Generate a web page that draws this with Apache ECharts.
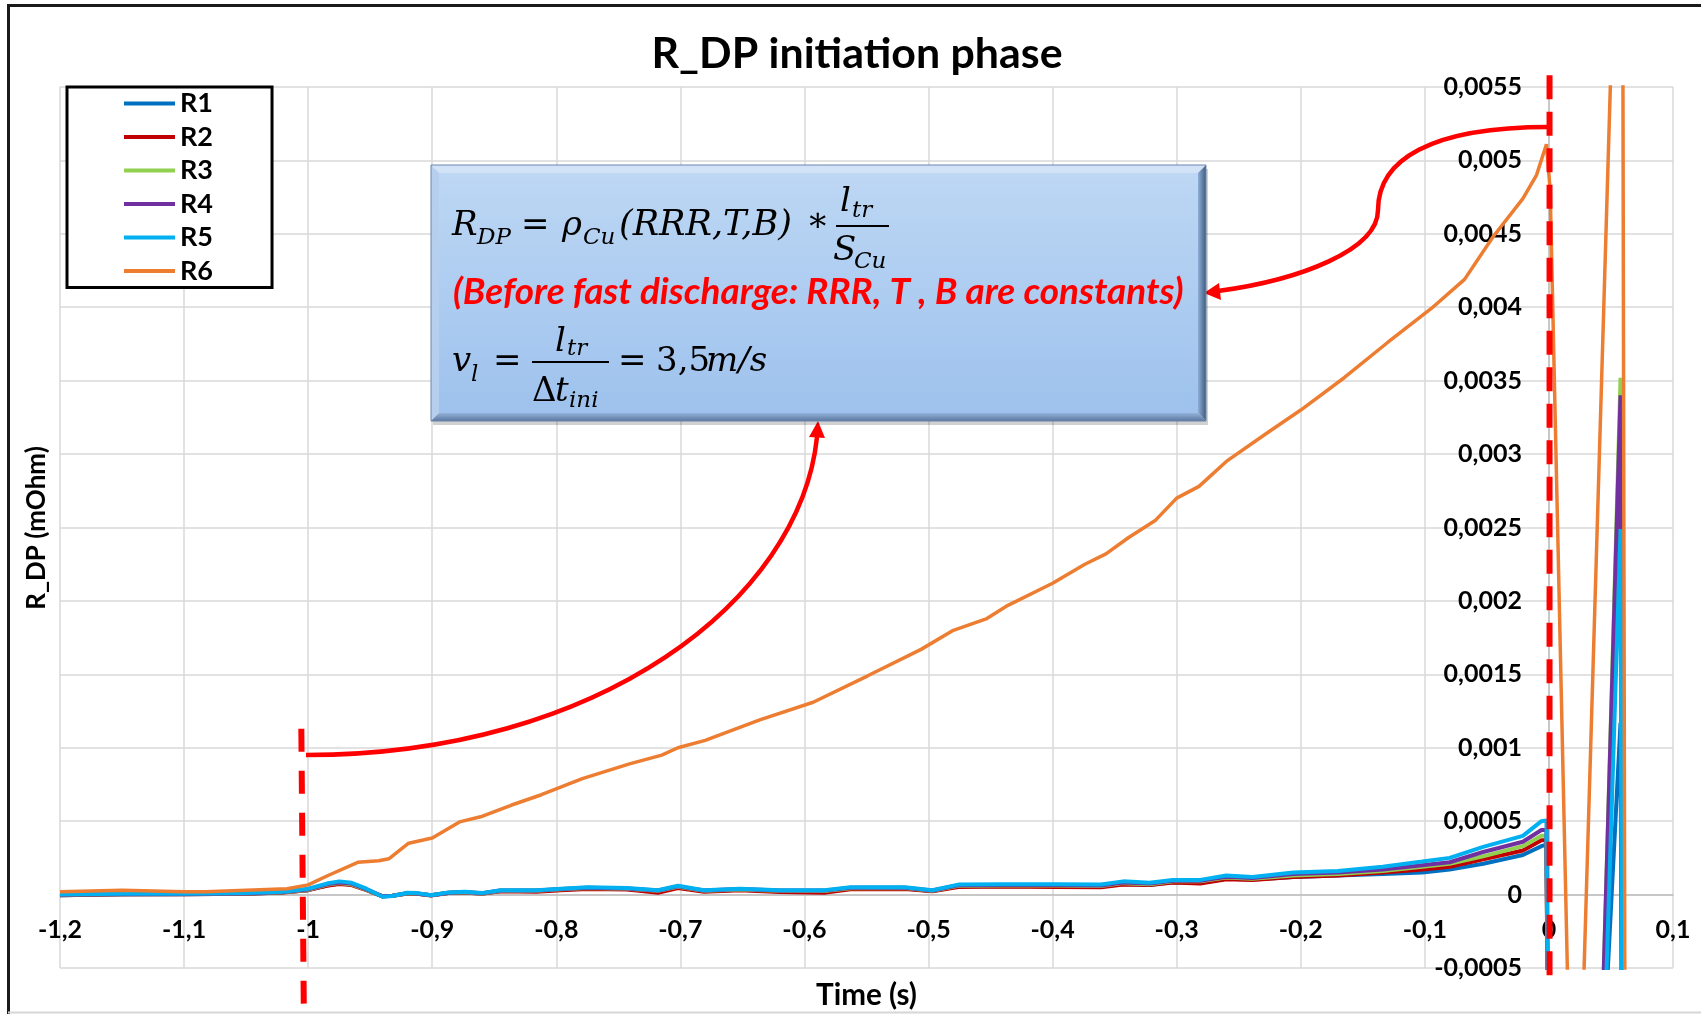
<!DOCTYPE html>
<html><head><meta charset="utf-8">
<script src="https://cdn.jsdelivr.net/npm/echarts@6/dist/echarts.min.js"></script>
<style>html,body{margin:0;padding:0;background:#fff}#c{width:1701px;height:1014px}</style>
</head><body><div id="c"></div>
<script>
// ---------------- DATA ----------------
const seriesNames = ['R1', 'R2', 'R3', 'R4', 'R5', 'R6'];
const seriesColors = ['#0070C0', '#C00000', '#92D050', '#7030A0', '#00B0F0', '#ED7D31'];

// time (s) shared by R1..R5
const timeR = [-1.2, -1.15, -1.1, -1.05, -1.02, -1.0, -0.985, -0.975, -0.965, -0.953,
  -0.94, -0.932, -0.92, -0.912, -0.901, -0.887, -0.874, -0.86, -0.845, -0.816,
  -0.796, -0.775, -0.743, -0.718, -0.702, -0.681, -0.652, -0.62, -0.584, -0.563,
  -0.519, -0.497, -0.476, -0.44, -0.397, -0.361, -0.343, -0.322, -0.303, -0.281,
  -0.26, -0.239, -0.206, -0.17, -0.134, -0.102, -0.08, -0.053, -0.021, -0.006,
  -0.002, 0.0008, 0.04, 0.0577, 0.0596];

const valR1 = [-0.000004, 0.000002, 0.000003, 0.000006, 0.000015, 0.00003, 0.000062, 0.000075, 0.000068, 0.000032,
  -0.000012, -0.000008, 0.000008, 0.000006, -0.000005, 0.000011, 0.000015, 0.000007, 0.000024, 0.000024,
  0.000034, 0.000042, 0.000038, 0.00002, 0.000048, 0.000024, 0.000033, 0.000022, 0.00002, 0.00004,
  0.000042, 0.000024, 0.000056, 0.000058, 0.000056, 0.000054, 0.000072, 0.000066, 0.000084, 0.000082,
  0.000108, 0.000102, 0.00012, 0.00013, 0.00014, 0.00015, 0.00017, 0.00021, 0.00027, 0.00033,
  0.00034, -0.003, -0.00173, 0.00117, -0.003];

const valR2 = [-0.000005, 0.000002, 0.000003, 0.000006, 0.000014, 0.00003, 0.00006, 0.000072, 0.000065, 0.00003,
  -0.000012, -0.000008, 0.000008, 0.000006, -0.000006, 0.00001, 0.000014, 0.000006, 0.000022, 0.00002,
  0.00003, 0.000038, 0.000035, 0.000012, 0.000045, 0.00002, 0.00003, 0.000018, 0.000012, 0.000036,
  0.000038, 0.000022, 0.000052, 0.000055, 0.000052, 0.00005, 0.000068, 0.000065, 0.000082, 0.000075,
  0.000105, 0.0001, 0.00012, 0.00013, 0.00015, 0.00017, 0.00019, 0.00024, 0.0003, 0.00037,
  0.00037, -0.003, -0.00186, 0.00282, -0.003];

const valR3 = [0, 0.000003, 0.000004, 0.000007, 0.000016, 0.000032, 0.000066, 0.000078, 0.00007, 0.000032,
  -0.000012, -0.000008, 0.000009, 0.000007, -0.000004, 0.000012, 0.000016, 0.000008, 0.000026, 0.000026,
  0.000036, 0.000045, 0.00004, 0.000026, 0.000053, 0.000026, 0.000035, 0.000026, 0.000025, 0.000043,
  0.000044, 0.000026, 0.00006, 0.000062, 0.000062, 0.000058, 0.000078, 0.00007, 0.00009, 0.00009,
  0.000116, 0.000108, 0.00013, 0.00014, 0.00016, 0.00019, 0.00021, 0.00026, 0.00033, 0.0004,
  0.0004, -0.003, -0.00179, 0.00352, -0.003];

const valR4 = [0, 0.000003, 0.000004, 0.000008, 0.000018, 0.000035, 0.00007, 0.000082, 0.000075, 0.000035,
  -0.000012, -0.000008, 0.00001, 0.000008, -0.000004, 0.000013, 0.000018, 0.000009, 0.000028, 0.000028,
  0.000038, 0.000047, 0.000042, 0.000028, 0.000056, 0.000028, 0.000038, 0.000028, 0.000027, 0.000046,
  0.000046, 0.000028, 0.000063, 0.000066, 0.000066, 0.000062, 0.000083, 0.000075, 0.000094, 0.000094,
  0.000122, 0.000113, 0.00014, 0.00015, 0.00017, 0.0002, 0.00022, 0.00029, 0.00036, 0.00044,
  0.00044, -0.003, -0.00173, 0.0034, -0.003];

const valR5 = [0, 0.000005, 0.000005, 0.00001, 0.00002, 0.00004, 0.000075, 0.00009, 0.00008, 0.00004,
  -0.000015, -0.00001, 0.000012, 0.00001, -0.000005, 0.000015, 0.00002, 0.00001, 0.00003, 0.00003,
  0.00004, 0.00005, 0.000045, 0.00003, 0.00006, 0.00003, 0.00004, 0.00003, 0.00003, 0.00005,
  0.00005, 0.00003, 0.000068, 0.00007, 0.00007, 0.000068, 0.00009, 0.00008, 0.0001, 0.0001,
  0.00013, 0.00012, 0.00015, 0.00016, 0.00019, 0.000225, 0.00025, 0.000325, 0.0004, 0.0005,
  0.000505, -0.003, -0.00224, 0.00249, -0.003];

// time (s) and values of R6
const timeR6 = [-1.2, -1.15, -1.1, -1.083, -1.05, -1.017, -1.0, -0.984, -0.96, -0.943,
  -0.935, -0.919, -0.9, -0.878, -0.861, -0.836, -0.812, -0.779, -0.741, -0.715,
  -0.702, -0.68, -0.636, -0.593, -0.549, -0.506, -0.48, -0.453, -0.436, -0.4,
  -0.374, -0.357, -0.339, -0.317, -0.3, -0.282, -0.26, -0.226, -0.2, -0.165,
  -0.13, -0.095, -0.068, -0.045, -0.021, -0.01, -0.002, 0.001, 0.0206, 0.059, 0.0618];
const valR6 = [0.00002, 0.00003, 0.00002, 0.00002, 0.00003, 0.00004, 0.000066, 0.00013, 0.00022, 0.00023,
  0.000244, 0.00035, 0.000385, 0.000495, 0.00053, 0.00061, 0.00068, 0.00079, 0.00089, 0.00095,
  0.001, 0.00105, 0.00119, 0.00131, 0.00149, 0.00167, 0.0018, 0.00188, 0.00197, 0.00212,
  0.00225, 0.00232, 0.00243, 0.00255, 0.0027, 0.00278, 0.00295, 0.00315, 0.0033, 0.00352,
  0.00376, 0.00399, 0.00419, 0.00448, 0.00474, 0.0049, 0.00511, 0.0048, -0.0027, 0.0082, -0.0031];

// axis ticks
const xTick = { min: -1.2, max: 0.1, step: 0.1, decimals: 1 };
const yTick = { min: -0.0005, max: 0.0055, step: 0.0005, decimals: 4 };

// texts
const titleText = 'R_DP initiation phase';
const xName = 'Time (s)';
const yName = 'R_DP (mOhm)';
const noteText = '(Before fast discharge: RRR, T , B are constants)';

// ---------------- CHART ----------------
const FONT = 'Lato';
const W = 1701, H = 1014;
const GRID = { left: 60, right: 28, top: 87, bottom: 46 };
function fmt(v, d) {
  const p = Math.pow(10, d);
  let r = Math.round(v * p) / p;
  if (Object.is(r, -0)) r = 0;
  return String(r).replace('.', ',');
}
const mctx = document.createElement('canvas').getContext('2d');
function fitSize(text, font, target) {
  mctx.font = font.replace('{s}', '100px');
  return 100 * target / mctx.measureText(text).width;
}

// axes cross at the zero of the other axis (as in the original)
const gridW = W - GRID.left - GRID.right, gridH = H - GRID.top - GRID.bottom;
const yAxisShift = (0 - xTick.min) / (xTick.max - xTick.min) * gridW;
const xAxisShift = (0 - yTick.min) / (yTick.max - yTick.min) * gridH;

const valueSets = [valR1, valR2, valR3, valR4, valR5];
const series = valueSets.map((vals, i) => ({
  name: seriesNames[i], type: 'line', symbol: 'none', showSymbol: false,
  data: timeR.map((t, k) => [t, vals[k]]),
  lineStyle: { width: 4, color: seriesColors[i] }, itemStyle: { color: seriesColors[i] },
  z: 2 + i
}));
series.push({
  name: seriesNames[5], type: 'line', symbol: 'none', showSymbol: false,
  data: timeR6.map((t, k) => [t, valR6[k]]),
  lineStyle: { width: 3.5, color: seriesColors[5] }, itemStyle: { color: seriesColors[5] },
  z: 8
});

const chart = echarts.init(document.getElementById('c'), null, { width: W, height: H });
chart.setOption({
  animation: false,
  backgroundColor: '#ffffff',
  grid: { left: GRID.left, right: GRID.right, top: GRID.top, bottom: GRID.bottom, containLabel: false, outerBoundsMode: 'none' },
  legend: {
    data: seriesNames, orient: 'vertical', left: 67, top: 87,
    padding: [3, 59, 3, 57], itemWidth: 51, itemHeight: 4, itemGap: 6.5, icon: 'rect',
    backgroundColor: '#ffffff', borderColor: '#000000', borderWidth: 3,
    textStyle: { fontFamily: FONT, fontWeight: 'bold', fontSize: 27, lineHeight: 27, color: '#000' },
    selectedMode: false
  },
  xAxis: {
    type: 'value', min: xTick.min, max: xTick.max, interval: xTick.step,
    position: 'bottom', offset: -xAxisShift,
    axisLine: { show: true, onZero: false, lineStyle: { color: '#bfbfbf', width: 1.5 } },
    axisTick: { show: false },
    axisLabel: { margin: 23, fontFamily: FONT, fontWeight: 'bold', fontSize: 25, color: '#000',
      formatter: v => fmt(v, xTick.decimals) },
    splitLine: { show: true, lineStyle: { color: '#d9d9d9', width: 1.5 } }
  },
  yAxis: {
    type: 'value', min: yTick.min, max: yTick.max, interval: yTick.step,
    position: 'left', offset: -yAxisShift,
    axisLine: { show: true, onZero: false, lineStyle: { color: '#bfbfbf', width: 1.5 } },
    axisTick: { show: false },
    axisLabel: { margin: 27, fontFamily: FONT, fontWeight: 'bold', fontSize: 25, color: '#000',
      formatter: v => fmt(v, yTick.decimals) },
    splitLine: { show: true, lineStyle: { color: '#d9d9d9', width: 1.5 } }
  },
  series: series
});

// ---------------- ANNOTATIONS ----------------
const px = (x, y) => chart.convertToPixel({ gridIndex: 0 }, [x, y]);
const g = [];
const Z = 100;

// outer frame
g.push({ type: 'line', z: Z, shape: { x1: 7, y1: 5.5, x2: W, y2: 5.5 }, style: { stroke: '#1a1a1a', lineWidth: 3 } });
g.push({ type: 'line', z: Z, shape: { x1: 8.5, y1: 4, x2: 8.5, y2: H }, style: { stroke: '#1a1a1a', lineWidth: 3 } });
g.push({ type: 'line', z: Z, shape: { x1: 8, y1: 1012.5, x2: W, y2: 1012.5 }, style: { stroke: '#d6d6d6', lineWidth: 2 } });

// title
const titleFont = 'bold {s} ' + FONT;
const titleSize = fitSize(titleText, titleFont, 411);
g.push({ type: 'text', z: Z, style: { text: titleText, x: 857, y: 54, textAlign: 'center', verticalAlign: 'middle',
  font: titleFont.replace('{s}', titleSize.toFixed(1) + 'px'), fill: '#000' } });

// axis names
g.push({ type: 'text', z: Z, x: 37, y: 528, rotation: Math.PI / 2,
  style: { text: yName, x: 0, y: 0, textAlign: 'center', verticalAlign: 'middle',
    font: 'bold 26px ' + FONT, fill: '#000' } });
const xNameSize = fitSize(xName, 'bold {s} ' + FONT, 101);
g.push({ type: 'text', z: Z, style: { text: xName, x: GRID.left + gridW / 2, y: 995, textAlign: 'center', verticalAlign: 'middle',
  font: 'bold ' + xNameSize.toFixed(1) + 'px ' + FONT, fill: '#000' } });

// red dashed lines (data positions)
const dl1a = px(-1.0055, 0.00113), dl1b = px(-1.0035, -0.00078);
g.push({ type: 'line', z: Z, shape: { x1: dl1a[0], y1: dl1a[1], x2: dl1b[0], y2: dl1b[1] },
  style: { stroke: '#ff0000', lineWidth: 6, lineDash: [23, 19] } });
const dl2a = px(0.0005, 0.00558), dl2b = px(0.0005, -0.00061);
g.push({ type: 'line', z: Z, shape: { x1: dl2a[0], y1: dl2a[1], x2: dl2b[0], y2: dl2b[1] },
  style: { stroke: '#ff0000', lineWidth: 6, lineDash: [24, 12.5] } });

// curved arrows
const arrowStyle = { stroke: '#ff0000', lineWidth: 4.5, fill: 'none' };
g.push({ type: 'bezierCurve', z: Z, shape: { x1: 1549, y1: 127, cpx1: 1430, cpy1: 127, cpx2: 1378, cpy2: 160, x2: 1378, y2: 210 }, style: arrowStyle });
g.push({ type: 'bezierCurve', z: Z, shape: { x1: 1378, y1: 210, cpx1: 1378, cpy1: 250, cpx2: 1300, cpy2: 280, x2: 1218, y2: 291 }, style: arrowStyle });
g.push({ type: 'polygon', z: Z, shape: { points: [[1204, 293], [1219, 283], [1221, 300]] }, style: { fill: '#ff0000' } });
g.push({ type: 'bezierCurve', z: Z, shape: { x1: 306, y1: 755, cpx1: 600, cpy1: 755, cpx2: 800, cpy2: 600, x2: 817, y2: 437 }, style: arrowStyle });
g.push({ type: 'polygon', z: Z, shape: { points: [[818, 421], [809, 437], [825, 438]] }, style: { fill: '#ff0000' } });

// formula box
const L = 431, T = 165, R = 1206, B = 421, b = 8;
g.push({ type: 'rect', z: Z, shape: { x: L + 2, y: T + 4, width: R - L, height: B - T }, style: { fill: 'rgba(0,0,0,0.18)' } });
g.push({ type: 'polygon', z: Z, shape: { points: [[L, T], [R, T], [R - b, T + b], [L + b, T + b]] }, style: { fill: '#d2e3f7' } });
g.push({ type: 'polygon', z: Z, shape: { points: [[L, T], [L + b, T + b], [L + b, B - b], [L, B]] }, style: { fill: '#b6cfee' } });
g.push({ type: 'polygon', z: Z, shape: { points: [[R, T], [R, B], [R - b, B - b], [R - b, T + b]] },
  style: { fill: { type: 'linear', x: 0, y: 0, x2: 1, y2: 0, colorStops: [{ offset: 0, color: '#8eadd6' }, { offset: 1, color: '#3f5b80' }] } } });
g.push({ type: 'polygon', z: Z, shape: { points: [[L, B], [L + b, B - b], [R - b, B - b], [R, B]] },
  style: { fill: { type: 'linear', x: 0, y: 0, x2: 0, y2: 1, colorStops: [{ offset: 0, color: '#93b2db' }, { offset: 1, color: '#5b789e' }] } } });
g.push({ type: 'rect', z: Z, shape: { x: L + b, y: T + b, width: R - L - 2 * b, height: B - T - 2 * b },
  style: { fill: { type: 'linear', x: 0, y: 0, x2: 0, y2: 1, colorStops: [{ offset: 0, color: '#bdd7f4' }, { offset: 1, color: '#9ec2ed' }] } } });
g.push({ type: 'rect', z: Z, shape: { x: L, y: T, width: R - L, height: B - T }, style: { fill: 'none', stroke: '#6a86ad', lineWidth: 1 } });

// formula text pieces
const MF = "'DejaVu Serif'";
function mt(text, x, y, size, italic, width) {
  let s = size;
  if (width) s = fitSize(text, (italic ? 'italic ' : '') + '{s} ' + MF, width);
  g.push({ type: 'text', z: Z + 1, style: { text: text, x: x, y: y, textAlign: 'left', verticalAlign: 'middle',
    font: (italic ? 'italic ' : '') + s.toFixed(1) + 'px ' + MF, fill: '#000' } });
}
const M = 34, S = 23;
// line 1
mt('R', 452, 226, M, true);
mt('DP', 477, 238, S, true);
mt('=', 521, 226, M, false);
mt('ρ', 562, 226, M, true);
mt('Cu', 583, 238, S, true);
mt('(RRR,T,B)', 619, 226, M, true, 173);
mt('∗', 806, 222, M, false);
mt('l', 840, 202, M, true);
mt('tr', 852, 211, S, true);
g.push({ type: 'line', z: Z + 1, shape: { x1: 836, y1: 226, x2: 889, y2: 226 }, style: { stroke: '#000', lineWidth: 2 } });
mt('S', 833, 251, M, true);
mt('Cu', 854, 262, S, true);
// line 2 (red note)
const noteFont = 'italic bold {s} ' + FONT;
const noteSize = fitSize(noteText, noteFont, 730);
g.push({ type: 'text', z: Z + 1, style: { text: noteText, x: 453, y: 292, textAlign: 'left', verticalAlign: 'middle',
  font: noteFont.replace('{s}', noteSize.toFixed(1) + 'px'), fill: '#ff0000' } });
// line 3
mt('v', 452, 362, M, true);
mt('l', 471, 375, S, true);
mt('=', 493, 362, M, false);
g.push({ type: 'line', z: Z + 1, shape: { x1: 532, y1: 362, x2: 609, y2: 362 }, style: { stroke: '#000', lineWidth: 2 } });
mt('l', 555, 342, M, true);
mt('tr', 567, 349, S, true);
mt('Δ', 532, 392, M, false);
mt('t', 555, 392, M, true);
mt('ini', 569, 401, S, true);
mt('=', 618, 362, M, false);
mt('3,5', 656, 362, M, false);
mt('m/s', 706, 362, M, true);

chart.setOption({ graphic: g });
</script>
</body></html>
